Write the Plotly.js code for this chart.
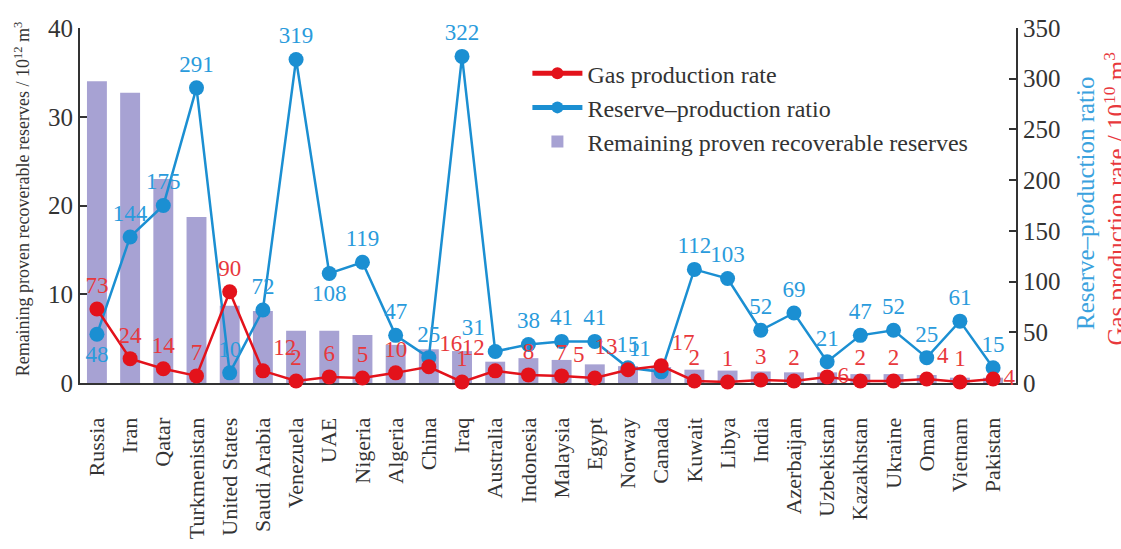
<!DOCTYPE html>
<html>
<head>
<meta charset="utf-8">
<script src="https://cdn.plot.ly/plotly-3.0.1.min.js"></script>
<style>html,body{margin:0;padding:0;background:#fff;}#chart{width:1121px;height:549px;}</style>
</head>
<body>
<div id="chart"></div>
<script>
const countries = ["Russia","Iran","Qatar","Turkmenistan","United States","Saudi Arabia","Venezuela","UAE","Nigeria","Algeria","China","Iraq","Australia","Indonesia","Malaysia","Egypt","Norway","Canada","Kuwait","Libya","India","Azerbaijan","Uzbekistan","Kazakhstan","Ukraine","Oman","Vietnam","Pakistan"];
const reserves = [34.0,32.7,23.0,18.7,8.7,8.1,5.9,5.9,5.4,4.3,3.8,3.6,2.4,2.8,2.6,2.1,1.9,1.8,1.5,1.4,1.3,1.2,1.2,1.0,1.0,0.9,0.6,0.6];
const rpRatio = [48,144,175,291,10,72,319,108,119,47,25,322,31,38,41,41,15,11,112,103,52,69,21,47,52,25,61,15];
const gasRate = [73,24,14,7,90,12,2,6,5,10,16,1,12,8,7,5,13,17,2,1,3,2,6,2,2,4,1,4];

const rpPos = ["bottom center","top center","top center","top center","top center","top center","top center","bottom center","top center","top center","top center","top center","top left","top center","top center","top center","top center","top left","top center","top center","top center","top center","top center","top center","top center","top center","top center","top center"];
const gasPos = ["top center","top center","top center","top center","top center","top right","top center","top center","top center","top center","top right","top center","top left","top center","top center","top left","top left","top right","top center","top center","top center","top center","middle right","top center","top center","top right","top center","middle right"];

const serif = "'Liberation Serif', 'DejaVu Serif', serif";
const RED = "#e3121b", BLUE = "#1b8fd2", BAR = "#a7a2d3";

const traces = [
  {type:"bar", x:countries, y:reserves, name:"Remaining proven recoverable reserves",
   marker:{color:BAR}, width:0.6, yaxis:"y", hoverinfo:"y"},
  {type:"scatter", mode:"lines+markers+text", x:countries, y:rpRatio, name:"Reserve–production ratio",
   yaxis:"y2", line:{color:BLUE, width:2.5}, marker:{color:BLUE, size:15},
   text:rpRatio.map(String), textposition:rpPos, textfont:{family:serif, size:23, color:"#2a9bdc"}, cliponaxis:false},
  {type:"scatter", mode:"lines+markers+text", x:countries, y:gasRate, name:"Gas production rate",
   yaxis:"y2", line:{color:RED, width:2.5}, marker:{color:RED, size:15},
   text:gasRate.map(String), textposition:gasPos, textfont:{family:serif, size:23, color:"#e8383c"}, cliponaxis:false}
];

const layout = {
  width:1121, height:549,
  margin:{l:80, r:105, t:28, b:166},
  paper_bgcolor:"#fff", plot_bgcolor:"#fff",
  font:{family:serif, color:"#333"},
  showlegend:true,
  legend:{x:0.478, y:0.935, xanchor:"left", yanchor:"top", traceorder:"reversed", itemsizing:"constant",
    bgcolor:"rgba(0,0,0,0)", font:{family:serif, size:24, color:"#333"}, itemwidth:50, tracegroupgap:0},
  bargap:0.4,
  xaxis:{type:"category", range:[-0.51, 27.69], showline:true, linecolor:"#333", linewidth:2,
    ticks:"", tickangle:-90, tickfont:{family:serif, size:22, color:"#333"}, ticklabelstandoff:24,
    showgrid:false, zeroline:false, layer:"below traces"},
  yaxis:{range:[0,40], tickvals:[0,10,20,30,40], showline:true, linecolor:"#333", linewidth:2,
    ticks:"inside", ticklen:7, tickwidth:2, tickcolor:"#333", tickfont:{family:serif, size:25, color:"#333"},
    showgrid:false, zeroline:false},
  yaxis2:{range:[0,350], tickvals:[0,50,100,150,200,250,300,350], overlaying:"y", side:"right",
    showline:true, linecolor:"#333", linewidth:2, ticks:"inside", ticklen:7, tickwidth:2, tickcolor:"#333",
    tickfont:{family:serif, size:25, color:"#333"}, showgrid:false, zeroline:false},
  annotations:[
    {xref:"paper", yref:"paper", x:-0.062, y:0.52, xanchor:"center", yanchor:"middle", textangle:-90, showarrow:false,
     text:"Remaining proven recoverable reserves / 10<sup>12</sup> m<sup>3</sup>", font:{family:serif, size:18, color:"#333"}},
    {xref:"paper", yref:"paper", x:1.075, y:0.505, xanchor:"center", yanchor:"middle", textangle:-90, showarrow:false,
     text:"Reserve–production ratio", font:{family:serif, size:25, color:"#3aa2de"}},
    {xref:"paper", yref:"paper", x:1.106, y:0.52, xanchor:"center", yanchor:"middle", textangle:-90, showarrow:false,
     text:"Gas production rate / 10<sup>10</sup> m<sup>3</sup>", font:{family:serif, size:25, color:"#e8383c"}}
  ]
};

Plotly.newPlot("chart", traces, layout, {displayModeBar:false, staticPlot:true});
</script>
</body>
</html>
